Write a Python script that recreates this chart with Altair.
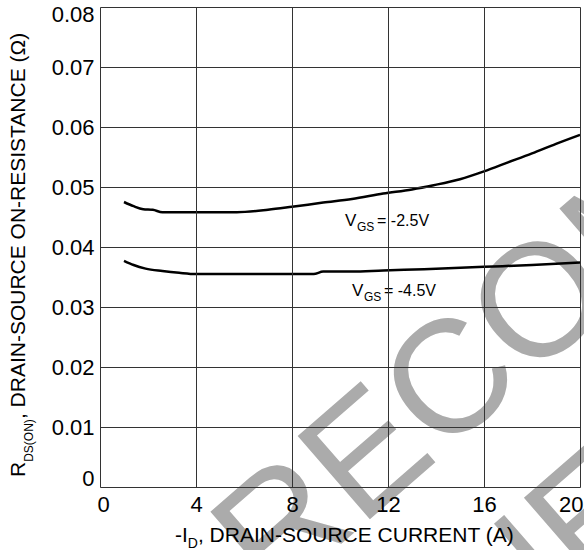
import altair as alt
import pandas as pd

# ---- data ----
id_vgs25 = [1.0, 1.4, 1.8, 2.2, 2.6, 4.0, 5.7, 7.0, 8.0, 9.3, 10.5, 11.8, 13.0, 13.9, 15.0, 16.0, 17.0, 18.0, 19.0, 20.0]
r_vgs25 = [0.0475, 0.0468, 0.0463, 0.0462, 0.0458, 0.0458, 0.0458, 0.0462, 0.0467, 0.0474, 0.0480, 0.0489,
           0.0496, 0.0503, 0.0513, 0.0526, 0.0541, 0.0556, 0.0572, 0.0587]
id_vgs45 = [1.0, 1.4, 1.9, 2.6, 3.3, 4.0, 6.0, 8.9, 9.3, 10.5, 11.8, 13.5, 16.0, 18.0, 20.0]
r_vgs45 = [0.0377, 0.0370, 0.0364, 0.0360, 0.0357, 0.0355, 0.0355, 0.0355, 0.0359, 0.0359, 0.0361, 0.0363,
           0.0367, 0.0370, 0.0374]

x_ticks = [0, 4, 8, 12, 16, 20]
y_ticks = [0, 0.01, 0.02, 0.03, 0.04, 0.05, 0.06, 0.07, 0.08]

# curve labels: anchor of the "V", then subscript and remainder
label_x = [10.21, 10.5]
label_y = [0.0435, 0.0318]
label_v = ["V", "V"]
label_sub = ["GS", "GS"]
label_rest = ["= -2.5V", "= -4.5V"]

# watermark
wm_x = [21.5, 26.83]
wm_y = [0.03032, 0.00578]
wm_text = ["NOT RECOMMENDED", "FOR NEW DESIGN"]

FONT = "Liberation Sans"
GRID = "#333333"

curves = pd.concat([
    pd.DataFrame({"x": id_vgs25, "y": r_vgs25, "series": "VGS = -2.5V"}),
    pd.DataFrame({"x": id_vgs45, "y": r_vgs45, "series": "VGS = -4.5V"}),
])
labels = pd.DataFrame({"x": label_x, "y": label_y, "v": label_v, "sub": label_sub, "rest": label_rest})
wm = pd.DataFrame({"x": wm_x, "y": wm_y, "text": wm_text})

xscale = alt.Scale(domain=[0, 20], nice=False, zero=False)
yscale = alt.Scale(domain=[0, 0.08], nice=False, zero=False)

xaxis = alt.Axis(values=x_ticks, title=None, grid=True, gridColor=GRID, gridWidth=1, gridOpacity=1,
                 ticks=False, tickSize=0, domain=False, labelFont=FONT, labelFontSize=22,
                 labelColor="black", labelPadding=7, labelFlush=True, labelFlushOffset=3,
                 format="d", zindex=1)
yaxis = alt.Axis(values=y_ticks, title=None, grid=True, gridColor=GRID, gridWidth=1, gridOpacity=1,
                 ticks=False, tickSize=0, domain=False, labelFont=FONT, labelFontSize=22,
                 labelColor="black", labelPadding=6, labelFlush=True, labelFlushOffset=3,
                 format=".2~f", zindex=1)

X = alt.X("x:Q", scale=xscale, axis=xaxis)
Y = alt.Y("y:Q", scale=yscale, axis=yaxis)

watermark = alt.Chart(wm).mark_text(
    font=FONT, fontSize=160, angle=319, color="#ababab", align="center", baseline="alphabetic"
).encode(x=X, y=Y, text="text:N")

lines = alt.Chart(curves).mark_line(color="black", strokeWidth=2.5, interpolate="monotone").encode(
    x=X, y=Y, detail="series:N"
)

lab_v = alt.Chart(labels).mark_text(font=FONT, fontSize=17, align="left", baseline="alphabetic",
                                    color="black").encode(x=X, y=Y, text="v:N")
lab_sub = alt.Chart(labels).mark_text(font=FONT, fontSize=12, align="left", baseline="alphabetic",
                                      color="black", dx=12, dy=5).encode(x=X, y=Y, text="sub:N")
lab_rest = alt.Chart(labels).mark_text(font=FONT, fontSize=16, align="left", baseline="alphabetic",
                                       color="black", dx=32).encode(x=X, y=Y, text="rest:N")

one = alt.Data(values=[{"a": 1}])


def title_piece(txt, px, py, size, angle=0):
    kw = dict(font=FONT, fontSize=size, align="left", baseline="alphabetic", color="black", text=txt)
    if angle:
        kw["angle"] = angle
    return alt.Chart(one).mark_text(**kw).encode(x=alt.value(px), y=alt.value(py))


# x-axis title: "-I_D, DRAIN-SOURCE CURRENT (A)"
xt1 = title_piece("-I", 75, 535, 21)
xt2 = title_piece("D", 87.8, 541, 14)
xt3 = title_piece(", DRAIN-SOURCE CURRENT (A)", 97.9, 535, 21)

# y-axis title: "R_DS(ON), DRAIN-SOURCE ON-RESISTANCE (Ω)"
yt1 = title_piece("R", -75, 470, 21, 270)
yt2 = title_piece("DS(ON)", -67, 454.8, 12, 270)
yt3 = title_piece(", DRAIN-SOURCE ON-RESISTANCE (Ω)", -75, 412.1, 21, 270)

chart = alt.layer(
    watermark, lines, lab_v, lab_sub, lab_rest, xt1, xt2, xt3, yt1, yt2, yt3
).properties(
    width=480, height=480,
    autosize=alt.AutoSizeParams(type="none"),
    padding={"left": 100, "top": 7, "right": 4, "bottom": 63},
).configure_view(stroke=GRID, strokeWidth=1).configure(background="white")

chart.save("out.html", embed_options={"renderer": "svg", "actions": False})
